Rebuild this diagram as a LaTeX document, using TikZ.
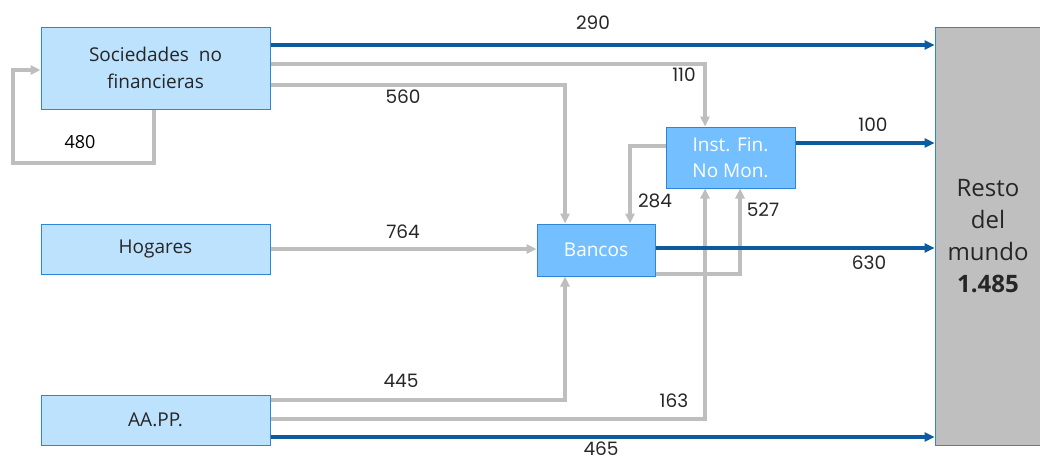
\documentclass[tikz,border=0pt]{standalone}
\usepackage{fontspec}
\setmainfont{Open Sans}
\newfontfamily\numfont{Poppins}
\usetikzlibrary{arrows.meta}
\definecolor{lightbox}{HTML}{BDE2FD}
\definecolor{midbox}{HTML}{74BFFF}
\definecolor{boxedge}{HTML}{2E86D6}
\definecolor{flowblue}{HTML}{0D5A9E}
\definecolor{flowgray}{HTML}{BEBEBE}
\definecolor{restgray}{HTML}{BFBFBF}
\definecolor{numcol}{HTML}{262626}
\begin{document}
\begin{tikzpicture}[x=1pt,y=-1pt,
  sector/.style={draw=boxedge,line width=1pt,fill=lightbox,inner sep=0pt,align=center,font=\fontsize{19}{27}\selectfont,text=black!85},
  inst/.style={draw=boxedge,line width=1pt,fill=midbox,inner sep=0pt,align=center,font=\fontsize{19}{26}\selectfont,text=white},
  bflow/.style={draw=flowblue,line width=3.4pt,-{Triangle[length=10pt,width=9pt]}},
  gflow/.style={draw=flowgray,line width=3.4pt,-{Triangle[length=10pt,width=9pt]}},
  num/.style={font=\numfont\fontsize{18.5}{20}\selectfont,text=numcol,inner sep=0pt}]
\useasboundingbox (0,0) rectangle (1040,458);
% boxes
\node[sector,minimum width=229pt,minimum height=82pt] (snf) at (155.5,68) {Sociedades\ \ no\\financieras};
\node[sector,minimum width=229pt,minimum height=50pt] (hog) at (155.5,249) {Hogares};
\node[sector,minimum width=229pt,minimum height=50pt] (aapp) at (155.5,420) {AA.PP.};
\node[inst,minimum width=118pt,minimum height=52pt] (ban) at (596,250) {Bancos};
\node[inst,minimum width=129pt,minimum height=61pt] (ifm) at (730.5,157.5) {Inst. Fin.\\No Mon.};
\node[draw=boxedge,line width=0.8pt,fill=restgray,minimum width=106pt,minimum height=418pt,inner sep=0pt,align=center,
  font=\fontsize{24}{32}\selectfont,text=black!85] (rm) at (988,236) {Resto\\del\\mundo\\\textbf{1.485}};
% coordinates
\coordinate (l480a) at (154,163);
\coordinate (l480b) at (13,163);
\coordinate (l480c) at (13,70);
% flows
\draw[bflow] (snf.east |- 0,45) -- (rm.west |- 0,45);
\draw[gflow] (snf.east |- 0,64) -| (ifm.north -| 705,0);
\draw[gflow] (snf.east |- 0,85) -| (ban.north -| 565,0);
\draw[gflow] (snf.south -| 154,0) -- (l480a) -- (l480b) -- (l480c) -- (snf.west |- 0,70);
\draw[gflow] (ifm.west |- 0,146) -| (ban.north -| 630,0);
\draw[gflow] (ban.east |- 0,274) -| (ifm.south -| 740,0);
\draw[gflow] (aapp.east |- 0,419) -| (ifm.south -| 705,0);
\draw[gflow] (aapp.east |- 0,400) -| (ban.south -| 565,0);
\draw[gflow] (hog.east |- 0,249) -- (ban.west |- 0,249);
\draw[bflow] (ban.east |- 0,248) -- (rm.west |- 0,248);
\draw[bflow] (ifm.east |- 0,143) -- (rm.west |- 0,143);
\draw[bflow] (aapp.east |- 0,437) -- (rm.west |- 0,437);
% labels
\node[num] (n290) at (593,23) {290};
\node[num] (n110) at (684,75) {110};
\node[num] (n560) at (403,97) {560};
\node[num,font=\fontsize{18}{20}\selectfont,text=black] (n480) at (80,142) {480};
\node[num] (n284) at (655,201) {284};
\node[num] (n527) at (763,210) {527};
\node[num] (n764) at (403,232) {764};
\node[num] (n630) at (869,263) {630};
\node[num] (n100) at (873,125) {100};
\node[num] (n445) at (401,381) {445};
\node[num] (n163) at (674,401) {163};
\node[num,text height=13pt,text depth=0pt] (n465) at (601,449) {465};
\end{tikzpicture}
\end{document}
